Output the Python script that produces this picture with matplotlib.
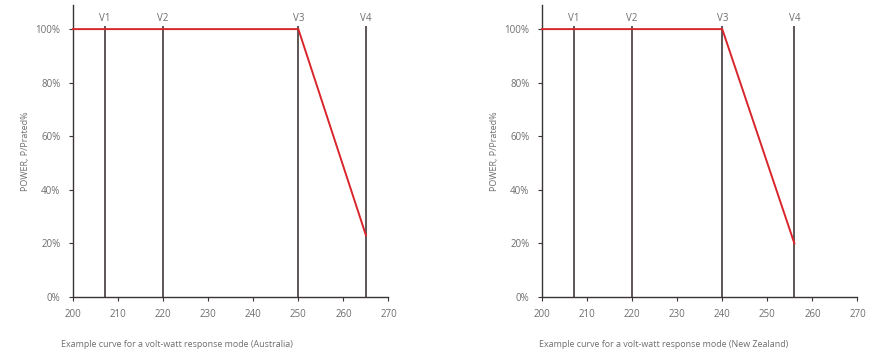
import matplotlib
matplotlib.use("Agg")
import matplotlib.pyplot as plt

plt.rcParams['font.family'] = ['Open Sans', 'DejaVu Sans']

x_ticks = [200, 210, 220, 230, 240, 250, 260, 270]
y_ticks = [0, 20, 40, 60, 80, 100]
y_tick_labels = ["0%", "20%", "40%", "60%", "80%", "100%"]
v_names = ["V1", "V2", "V3", "V4"]

au_v = [207, 220, 250, 265]
au_curve_x = [200, 250, 265]
au_curve_y = [100, 100, 23]

nz_v = [207, 220, 240, 256]
nz_curve_x = [200, 240, 256]
nz_curve_y = [100, 100, 20]

ylabel = "POWER, P/Prated%"
captions = ["Example curve for a volt-watt response mode (Australia)",
            "Example curve for a volt-watt response mode (New Zealand)"]

TEXT = "#6e6e6e"
AX = "#3a3434"
VLINE = "#5e5656"
RED = "#d8262b"

fig = plt.figure(figsize=(8.74, 3.55), dpi=100)
panels = [
    (0.0835, au_v, au_curve_x, au_curve_y, captions[0], 0.070),
    (0.6201, nz_v, nz_curve_x, nz_curve_y, captions[1], 0.617),
]
for left, vs, cx, cy, cap, capx in panels:
    ax = fig.add_axes([left, 0.1634, 0.3610, 0.8225])
    ax.set_xlim(200, 270)
    ax.set_ylim(0, 109)
    for s in ['top', 'right']:
        ax.spines[s].set_visible(False)
    for s in ['left', 'bottom']:
        ax.spines[s].set_color(AX)
        ax.spines[s].set_linewidth(1.0)
    for v, name in zip(vs, v_names):
        ax.vlines(v, 0, 101.2, color=VLINE, lw=1.4, zorder=2)
        ax.text(v, 104, name, ha='center', va='center', fontsize=7, color=TEXT)
    ax.plot(cx, cy, color=RED, lw=1.4, zorder=3, clip_on=False)
    ax.set_xticks(x_ticks)
    ax.set_xticklabels([str(t) for t in x_ticks])
    ax.set_yticks(y_ticks)
    ax.set_yticklabels(y_tick_labels)
    ax.tick_params(axis='both', colors=AX, labelcolor=TEXT, labelsize=7,
                   length=3, width=0.8, pad=6)
    ax.set_ylabel(ylabel, fontsize=6.5, color=TEXT, labelpad=4)
    fig.text(capx, 0.030, cap, fontsize=6.4, color=TEXT, ha='left', va='center')

fig.savefig("out.png", dpi=100)
